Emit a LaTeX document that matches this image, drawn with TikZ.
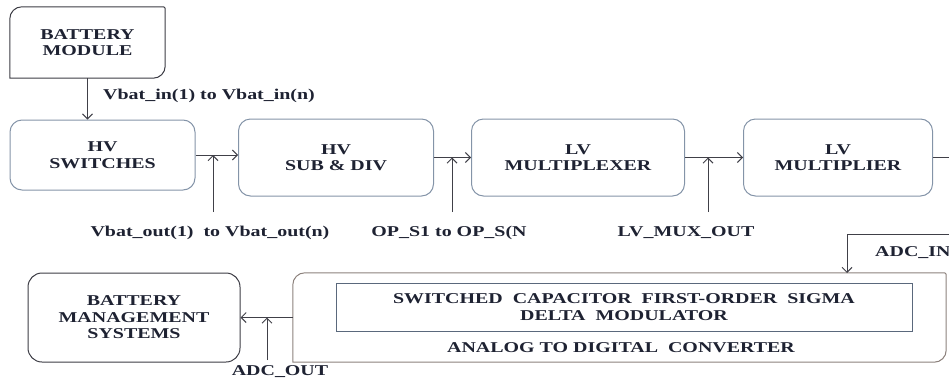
\documentclass[tikz,border=0pt]{standalone}
\usepackage{fontspec}
\setmainfont{Liberation Serif}[FakeStretch=1.33]
\usetikzlibrary{arrows.meta, positioning}

\definecolor{boxline}{HTML}{8494A8}
\definecolor{darkline}{HTML}{3C3C44}
\definecolor{adcline}{HTML}{8C817C}
\definecolor{innerline}{HTML}{5A687C}
\definecolor{wire}{HTML}{404048}
\definecolor{ink}{HTML}{1E2232}

% frame with two big rounded corners (top left, bottom right)
\newcommand{\diagframe}[2]{%
  \draw[#2, line width=1pt] (#1.south west) -- ([yshift=-12pt]#1.north west)
    arc[start angle=180, end angle=90, radius=12pt] -- ([xshift=-2pt]#1.north east)
    arc[start angle=90, end angle=0, radius=2pt] -- ([yshift=12pt]#1.south east)
    arc[start angle=0, end angle=-90, radius=12pt] -- cycle;}

\begin{document}
\begin{tikzpicture}[
    x=1pt, y=-1pt,
    font=\bfseries\fontsize{15}{16.5}\selectfont,
    block/.style={draw=boxline, rectangle, rounded corners=12pt, minimum height=77pt, align=center, line width=1pt, text=ink, inner sep=0pt},
    lbl/.style={text=ink, inner sep=1pt},
    arr/.style={-{Straight Barb[length=5pt, width=10pt]}, line width=1pt, draw=wire}
]
    \useasboundingbox (0,0) rectangle (949,383);

    % Battery module
    \node[minimum width=155pt, minimum height=71pt, align=center, text=ink, inner sep=0pt] (batt) at (87.5,42.5) {BATTERY\\MODULE};
    \diagframe{batt}{darkline}

    % Top row
    \node[block, minimum width=185pt, minimum height=70pt] (hvsw) at (102.5,155) {HV\\SWITCHES};
    \node[block, minimum width=195pt] (hvsub) at (336,157.5) {HV\\SUB \& DIV};
    \node[block, minimum width=213pt, right=37pt of hvsub] (mux) {LV\\MULTIPLEXER};
    \node[block, minimum width=189pt, right=58pt of mux] (mult) {LV\\MULTIPLIER};
    \coordinate (outedge) at (949,157.5);

    \draw[arr] (batt.south) -- (batt.south |- hvsw.north);
    \node[lbl, anchor=west] (vin) at (102,96) {Vbat\_in(1) to Vbat\_in(n)};

    \draw[arr] (hvsw) -- (hvsw -| hvsub.west);
    \draw[arr] (hvsub) -- (mux);
    \draw[arr] (mux) -- (mult);
    \draw[wire, line width=1pt] (mult) -- (outedge);

    % Side inputs
    \coordinate (j1) at (213,155);
    \coordinate (s1) at (213,212);
    \coordinate (j2) at (452,157.5);
    \coordinate (s2) at (452,212);
    \coordinate (j3) at (708,157.5);
    \coordinate (s3) at (708,212);
    \draw[arr] (s1) -- (j1);
    \draw[arr] (s2) -- (j2);
    \draw[arr] (s3) -- (j3);
    \node[lbl] (vout) at (210,233) {Vbat\_out(1)\ \ to Vbat\_out(n)};
    \node[lbl] (ops) at (449,233) {OP\_S1 to OP\_S(N};
    \node[lbl] (muxout) at (686,233) {LV\_MUX\_OUT};

    % Bottom row
    \node[draw=darkline, rectangle, rounded corners=14pt, line width=1pt, minimum width=212pt, minimum height=89pt, align=center, text=ink, inner sep=0pt] (bms) at (134,317.5) {BATTERY\\MANAGEMENT\\SYSTEMS};
    \node[minimum width=653pt, minimum height=89pt, inner sep=0pt] (adc) at (619.5,317.5) {};
    \diagframe{adc}{adcline}
    \node[draw=innerline, rectangle, line width=1pt, minimum width=576pt, minimum height=48pt, align=center, text=ink, inner sep=0pt] (sdm) at (624,307) {SWITCHED\ \ CAPACITOR\ \ FIRST-ORDER\ \ SIGMA\\DELTA\ \ MODULATOR};
    \node[lbl] (adcname) at (621,348) {ANALOG TO DIGITAL\ \ CONVERTER};

    \draw[arr] (adc) -- (bms);
    \coordinate (j4) at (267,317.5);
    \coordinate (s4) at (267,360);
    \draw[arr] (s4) -- (j4);
    \node[lbl] (adcout) at (280,372) {ADC\_OUT};

    \coordinate (inedge) at (949,234);
    \coordinate (adcin) at (847,273);
    \draw[arr] (inedge) -| (adcin);
    \node[lbl, anchor=west] (adcinlbl) at (874,253) {ADC\_IN};
\end{tikzpicture}
\end{document}
